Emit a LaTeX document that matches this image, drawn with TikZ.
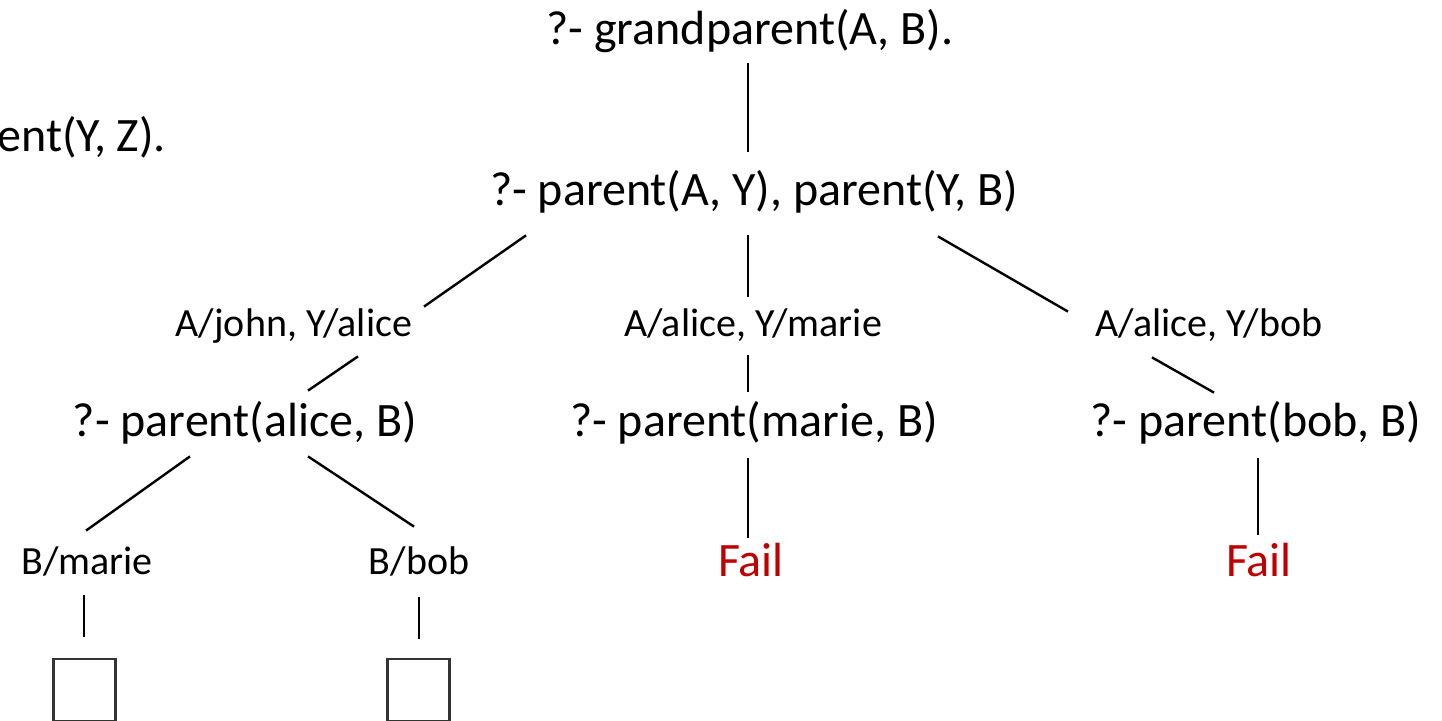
\documentclass[tikz,border=0pt]{standalone}
\usepackage{fontspec}
\setmainfont{Carlito}
\usetikzlibrary{calc}
\definecolor{failred}{RGB}{192,0,0}
\tikzset{
  goal/.style={font=\fontsize{24}{28}\selectfont, inner sep=0pt, text height=17pt, text depth=3pt},
  subst/.style={font=\fontsize{20}{24}\selectfont, inner sep=0pt, text height=14pt, text depth=1pt},
  failgoal/.style={goal, text=failred},
  emptybox/.style={draw=black!80, line width=1.1pt, minimum size=31pt, inner sep=0pt},
  branch/.style={line width=1.2pt},
}
\begin{document}
\begin{tikzpicture}[x=0.5pt,y=-0.5pt]
  \clip (0,0) rectangle (1442,721);
  % rule text, cut by the left border
  \node[goal,anchor=west] (clause) at (-3,138) {ent(Y, Z).};
  % goals
  \node[goal] (root) at (750,31)  {?- grandparent(A, B).};
  \node[goal] (q1)   at (754,192) {?- parent(A, Y), parent(Y, B)};
  \node[goal] (p1)   at (245,423) {?- parent(alice, B)};
  \node[goal] (p2)   at (754,423) {?- parent(marie, B)};
  \node[goal] (p3)   at (1256,423) {?- parent(bob, B)};
  % substitutions
  \node[subst] (l1) at (294,324)  {A/john, Y/alice};
  \node[subst] (l2) at (753,324)  {A/alice, Y/marie};
  \node[subst] (l3) at (1209,324) {A/alice, Y/bob};
  \node[subst] (b1) at (87,562)   {B/marie};
  \node[subst] (b2) at (419,562)  {B/bob};
  % leaves
  \node[failgoal] (f1) at (751,563)  {Fail};
  \node[failgoal] (f2) at (1259,563) {Fail};
  \node[emptybox] (s1) at (84.5,690)  {};
  \node[emptybox] (s2) at (418.5,690) {};
  % branches
  \draw[branch] ($(root.south)+(-2,12)$) -- ($(q1.north)+(-6,-20)$);
  \draw[branch] ($(q1.south)+(-228,23)$) -- ($(l1.north)+(130,-2)$);
  \draw[branch] ($(q1.south)+(-6,23)$)   -- ($(l2.north)+(-5,-12)$);
  \draw[branch] ($(q1.south)+(184,24)$)  -- ($(l3.north)+(-141,3)$);
  \draw[branch] ($(l1.south)+(64,17)$)   -- ($(p1.north)+(63,-12)$);
  \draw[branch] ($(l2.south)+(-5,16)$)   -- ($(p2.north)+(-6,-11)$);
  \draw[branch] ($(l3.south)+(-57,18)$)  -- ($(p3.north)+(-42,-10)$);
  \draw[branch] ($(p1.south)+(-55,13)$)  -- ($(b1.north)+(-1,-16)$);
  \draw[branch] ($(p1.south)+(63,13)$)   -- ($(b2.north)+(-5,-20)$);
  \draw[branch] ($(p2.south)+(-6,15)$)   -- ($(f1.north)+(-3,-5)$);
  \draw[branch] ($(p3.south)+(2,15)$)    -- ($(f2.north)+(-1,-8)$);
  \draw[branch] ($(b1.south)+(-3,18)$)   -- ($(s1.north)+(-0.5,-21)$);
  \draw[branch] ($(b2.south)+(0,20)$)    -- ($(s2.north)+(0.5,-19)$);
\end{tikzpicture}
\end{document}
